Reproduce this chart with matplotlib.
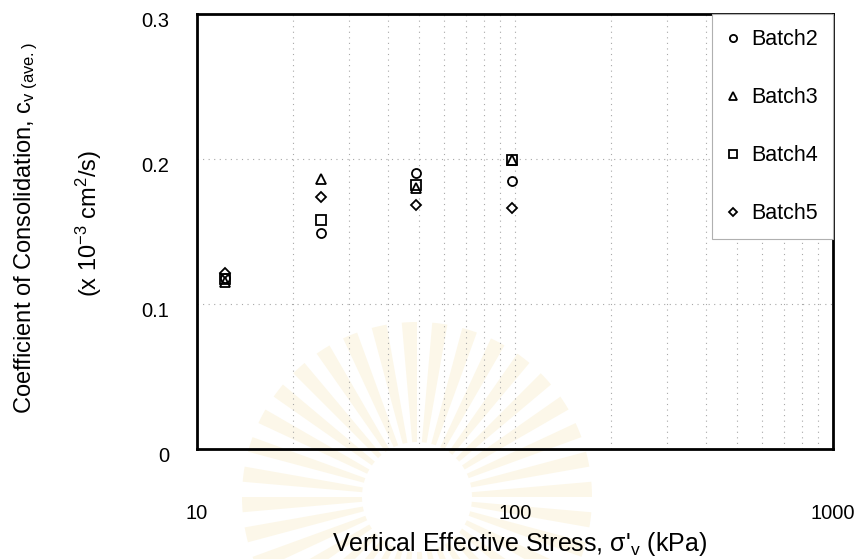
import numpy as np
import matplotlib.pyplot as plt
import matplotlib.transforms as mtransforms
from matplotlib.patches import Wedge
from matplotlib.ticker import FixedLocator, NullFormatter

plt.rcParams['font.family'] = ['Liberation Sans', 'DejaVu Sans']
plt.rcParams['mathtext.fontset'] = 'custom'
plt.rcParams['mathtext.rm'] = 'Liberation Sans'
plt.rcParams['mathtext.it'] = 'Liberation Sans:italic'

# Load increments (kPa) and averaged cv (x 10^-3 cm^2/s)
stress = [12.26, 24.5, 49.0, 98.1]
batch2 = [0.118, 0.149, 0.190, 0.185]
batch3 = [0.115, 0.186, 0.180, 0.199]
batch4 = [0.117, 0.158, 0.182, 0.199]
batch5 = [0.121, 0.174, 0.168, 0.166]

series = [
    ("Batch2", batch2, "o"),
    ("Batch3", batch3, "^"),
    ("Batch4", batch4, "s"),
    ("Batch5", batch5, "D"),
]

fig = plt.figure(figsize=(8.64, 5.59), dpi=100)

# faint sunburst seal printed behind the chart, in pixel units
bg = fig.add_axes([0, 0, 1, 1], zorder=-1)
bg.set_xlim(0, 864)
bg.set_ylim(0, 559)
bg.axis("off")
for k in range(36):
    a0 = k * 10
    bg.add_patch(Wedge((417, 62), 175, a0, a0 + 5, width=120,
                       facecolor="#f6e4b0", edgecolor="none", alpha=0.28))

ax = fig.add_axes([0.228, 0.197, 0.736, 0.778])
ax.set_facecolor("none")

for label, vals, mk in series:
    ms = 5.5 if mk == "D" else 6.5
    ax.plot(stress, vals, linestyle="none", marker=mk, markersize=ms,
            markerfacecolor="none", markeredgecolor="black",
            markeredgewidth=1.3, label=label)

ax.set_xscale("log")
ax.set_xlim(10, 1000)
ax.set_ylim(0, 0.3)

ax.xaxis.set_major_locator(FixedLocator([10, 100, 1000]))
ax.xaxis.set_minor_locator(FixedLocator([20, 30, 40, 50, 60, 70, 80, 90,
                                         200, 300, 400, 500, 600, 700, 800, 900]))
ax.xaxis.set_minor_formatter(NullFormatter())
ax.set_xticklabels(["10", "100", "1000"])
ax.set_yticks([0, 0.1, 0.2, 0.3])
ax.set_yticklabels(["0", "0.1", "0.2", "0.3"])

ax.tick_params(which="both", length=0, labelsize=14.5)
ax.tick_params(axis="x", pad=40)
ax.tick_params(axis="y", pad=20)
offset = mtransforms.ScaledTranslation(0, -6 / 100, fig.dpi_scale_trans)
for lbl in ax.get_yticklabels():
    lbl.set_transform(lbl.get_transform() + offset)

ax.grid(True, which="both", axis="x", linestyle=(0, (1, 4)), color="#a8a8a8", linewidth=0.8)
ax.grid(True, which="major", axis="y", linestyle=(0, (1, 4)), color="#a8a8a8", linewidth=0.8)

for sp in ax.spines.values():
    sp.set_linewidth(2.0)

leg = ax.legend(loc="upper right", fontsize=15.5, labelspacing=1.72,
                handlelength=0.5, handletextpad=0.6, borderpad=0.7,
                borderaxespad=0.0, fancybox=False, framealpha=1,
                edgecolor="#b0b0b0", markerscale=0.8)
leg.get_frame().set_linewidth(0.8)

fig.text(0.601, 0.026, "Vertical Effective Stress, σ'$_\\mathregular{v}$ (kPa)",
         ha="center", va="center", fontsize=18)
fig.text(0.031, 0.592, r"Coefficient of Consolidation, c$_\mathregular{v\ (ave.)}$",
         rotation=90, ha="center", va="center", fontsize=17)
fig.text(0.103, 0.601, r"(x 10$^\mathregular{-3}$ cm$^\mathregular{2}$/s)",
         rotation=90, ha="center", va="center", fontsize=17)

fig.savefig("out.png", dpi=100)
